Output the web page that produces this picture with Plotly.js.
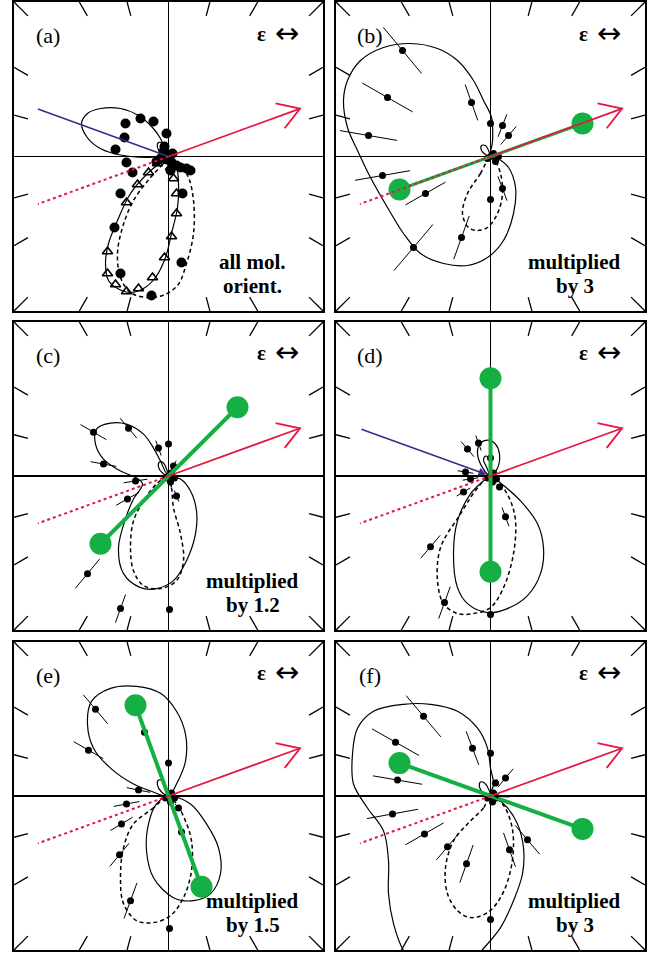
<!DOCTYPE html>
<html><head><meta charset="utf-8">
<script src="https://cdn.plot.ly/plotly-3.0.1.min.js"></script>
<style>html,body{margin:0;padding:0;background:#fff}#plot{width:651px;height:954px}</style>
</head><body><div id="plot"></div>
<script>
// ---------- data (panel coordinates, centre = 0, half width = 154.5) ----------
const panelLetters = ['(a)','(b)','(c)','(d)','(e)','(f)'];
const noteLine1 = ['all mol.','multiplied','multiplied','','multiplied','multiplied'];
const noteLine2 = ['orient.','by 3','by 1.2','','by 1.5','by 3'];

// (a)
const solidA1 = [[0,0],[-3,6],[-8,18],[-16,29],[-30,41],[-48,48],[-68,48],[-81,43],[-87,33],[-82,20],[-70,9],[-55,3],[-38,0],[-21,-1],[-10,0],[0,0]];
const solidA2 = [[0,0],[-8,-6],[-21,-17],[-38,-37],[-51,-64],[-60,-87],[-63,-107],[-60,-124],[-51,-132],[-38,-136],[-25,-132],[-13,-121],[-3,-101],[3,-77],[9,-51],[10,-27],[8,-11],[0,0]];
const dashA = [[0,0],[-6,-8],[-18,-21],[-35,-44],[-46,-71],[-51,-97],[-48,-121],[-38,-136],[-21,-141],[-6,-139],[9,-129],[18,-107],[25,-77],[25,-44],[20,-21],[12,-9],[0,0]];
const loopA = [[0,0],[-2,7],[-6,13],[-10,14],[-11,9],[-7,3],[0,0]];
const dotsA = [[-28,38,4],[-15,35,4],[-43,33,4],[-2,23,4],[-44,19,4],[-53,7,4],[-42,-6,4],[-36,-16,4],[-48,-37,4],[-54,-71,4],[-48,-117,4],[-17,-139,4],[13,-106,4],[14,-37,4],
  [-5,5,0],[-2,-3,0],[3,-6,0],[8,-9,0],[12,-11,0],[18,-12,0],[-8,-2,0],[4,3,0],[-12,-5,0],[2,-14,0],[0,0,0],[-4,10,0],[22,-14,0]];
const triA = [[-20,-16],[-31,-28],[-42,-46],[5,-22],[8,-37],[8,-57],[3,-80],[-4,-101],[-16,-121],[-30,-132],[-42,-135],[-53,-128],[-61,-117],[-61,-95],[-11,-7],[2,-11]];

// (b)
const solidB1 = [[0,0],[2,15],[1,39],[-7,56],[-17,76],[-33,96],[-53,108],[-80,113],[-107,109],[-130,96],[-143,76],[-147,56],[-143,29],[-133,6],[-120,-21],[-103,-51],[-87,-77],[-70,-97],[-47,-107],[-23,-109],[-3,-101],[13,-84],[23,-57],[25,-31],[18,-11],[7,-2],[0,0]];
const dashB = [[0,0],[-10,-17],[-23,-37],[-28,-57],[-22,-71],[-13,-74],[-3,-71],[7,-57],[12,-37],[10,-17],[5,-5],[0,0]];
const loopB = [[0,0],[-2,6],[-5,11],[-9,11],[-9,6],[-5,2],[0,0]];
const dotsB = [[-88,106,30],[-103,59,29],[-122,21,29],[-108,-19,28],[-65,-37,23],[-77,-91,30],[-29,-81,23],[-19,54,19],[0,33,10],[12,31,12],[18,21,12],[0,-43,0],[12,-32,13],
  [3,3,0],[8,0,0],[-3,-2,0],[5,-5,0],[0,0,0]];
const greenB = [[92,33],[-91,-33]];

// (c)
const solidC1 = [[0,0],[-8,15],[-15,28],[-25,42],[-42,52],[-58,53],[-72,47],[-73,32],[-65,17],[-48,5],[-32,-2],[-26,-8],[-35,-23],[-42,-40],[-50,-72],[-45,-98],[-28,-112],[-12,-113],[5,-105],[18,-85],[27,-58],[28,-35],[22,-15],[12,-3],[0,0]];
const dashC = [[0,0],[3,-12],[5,-32],[12,-58],[15,-85],[8,-105],[-8,-113],[-25,-110],[-35,-95],[-38,-72],[-35,-45],[-25,-25],[-12,-8],[0,0]];
const loopC = [[0,0],[-2,7],[-5,13],[-9,14],[-10,9],[-6,3],[0,0]];
const dotsC = [[-75,44,15],[-40,48,13],[-65,12,13],[-10,28,8],[0,32,0],[-33,-5,12],[-41,-23,13],[-81,-98,19],[-48,-133,15],[1,-134,0],[5,10,6],[8,-20,6],
  [3,3,0],[6,-2,0],[-3,-2,0],[2,-6,0],[0,0,0]];
const greenC = [[69,69],[-68,-68]];

// (d)
const solidD1 = [[0,0],[-10,12],[-13,25],[-10,33],[-2,36],[5,32],[9,22],[7,8],[0,0]];
const solidD2 = [[0,0],[-7,-5],[-20,-18],[-33,-45],[-37,-78],[-33,-112],[-23,-128],[-3,-137],[17,-133],[37,-120],[50,-98],[53,-72],[47,-48],[30,-25],[10,-7],[0,0]];
const dashD = [[0,0],[-13,-12],[-30,-38],[-50,-72],[-53,-105],[-47,-128],[-33,-138],[-17,-138],[0,-132],[13,-112],[23,-78],[25,-45],[20,-25],[10,-8],[0,0]];
const loopD = [[0,0],[-4,9],[-7,16],[-5,20],[-1,17],[0,0]];
const dotsD = [[-12,33,8],[-23,27,10],[-25,4,8],[-20,-3,8],[-27,-16,8],[0,18,0],[15,-41,10],[-60,-71,15],[-46,-127,17],[0,-139,0],[9,-11,4],
  [3,3,0],[6,-3,0],[-3,-2,0],[2,-6,0],[0,0,0]];
const greenD = [[0,98],[0,-96]];

// (e)
const solidE1 = [[0,0],[8,12],[17,35],[17,62],[8,85],[-8,103],[-32,110],[-58,108],[-77,95],[-81,72],[-75,48],[-58,28],[-35,12],[-18,5],[0,0]];
const solidE2 = [[0,0],[-12,-8],[-20,-28],[-22,-55],[-15,-82],[5,-102],[25,-105],[42,-98],[52,-78],[50,-52],[38,-28],[22,-8],[0,0]];
const dashE = [[0,0],[-15,-12],[-35,-28],[-45,-52],[-48,-82],[-45,-108],[-32,-125],[-15,-127],[2,-120],[15,-102],[23,-75],[23,-45],[17,-25],[8,-8],[0,0]];
const loopE = [[0,0],[-2,8],[-6,15],[-10,16],[-11,11],[-7,4],[0,0]];
const dotsE = [[-73,87,19],[-80,46,17],[-24,64,5],[0,33,0],[-30,6,12],[-42,-8,13],[-47,-28,13],[-49,-59,15],[-38,-105,19],[10,-12,5],[13,-36,5],[1,-133,0],
  [3,3,0],[6,-2,0],[-3,-2,0],[2,-6,0],[0,0,0]];
const greenE = [[-33,91],[33,-91]];

// (f)
const solidF1 = [[0,0],[3,12],[0,28],[-3,48],[-13,68],[-33,85],[-60,92],[-87,92],[-117,85],[-133,68],[-138,42],[-137,12],[-123,-12],[-107,-35],[-102,-65],[-102,-98],[-97,-128],[-87,-155],[-65,-180],[-30,-178],[-7,-153],[10,-132],[23,-105],[32,-78],[33,-52],[27,-28],[17,-12],[7,-3],[0,0]];
const dashF = [[0,0],[-7,-12],[-23,-28],[-37,-45],[-45,-72],[-43,-98],[-33,-115],[-20,-122],[-3,-117],[10,-102],[20,-75],[23,-45],[20,-25],[12,-8],[0,0]];
const loopF = [[0,0],[-2,7],[-6,13],[-10,14],[-11,9],[-7,3],[0,0]];
const dotsF = [[-67,80,27],[-95,54,27],[-93,16,25],[-98,-18,26],[-66,-38,22],[-43,-51,17],[-24,-68,20],[-18,48,18],[0,43,0],[15,18,12],[5,13,4],[19,-54,18],[37,-44,19],[0,-124,0],
  [3,3,0],[6,-2,0],[-3,-2,0],[2,-6,0],[0,0,0]];
const greenF = [[-91,33],[92,-33]];

// ---------- styling / geometry ----------
const H = 154.5;
const RED = '#e5173f', BLUE = '#3b2a8a', GREEN = '#14b044';
const xDom = [[14/651, 323/651],[336/651, 645/651]];
const yDom = [[1-311/954, 1-2/954],[1-630/954, 1-322/954],[1-950/954, 1-642/954]];
const panels = [
  {solid:[solidA1,solidA2,loopA], dash:dashA, dots:dotsA, tri:triA, green:null, blue:true, big:true},
  {solid:[solidB1,loopB], dash:dashB, dots:dotsB, green:greenB, gw:3},
  {solid:[solidC1,loopC], dash:dashC, dots:dotsC, green:greenC, gw:4},
  {solid:[solidD1,solidD2,loopD], dash:dashD, dots:dotsD, green:greenD, gw:4, blueArrow:true},
  {solid:[solidE1,solidE2,loopE], dash:dashE, dots:dotsE, green:greenE, gw:4},
  {solid:[solidF1,loopF], dash:dashF, dots:dotsF, green:greenF, gw:4, blackArrow:true}
];

const traces = [];
const layout = {width:651, height:954, margin:{l:0,r:0,t:0,b:0}, showlegend:false,
  paper_bgcolor:'#fff', plot_bgcolor:'#fff', annotations:[]};
const serif = 'Liberation Serif, Times New Roman, serif';

function join(list){ // list of point arrays -> x,y with null separators
  const x=[],y=[];
  list.forEach((p,i)=>{ if(i) {x.push(null);y.push(null);} p.forEach(q=>{x.push(q[0]);y.push(q[1]);}); });
  return {x,y};
}

panels.forEach((P,k)=>{
  const n = k+1, sx = n===1?'':n;
  const xa='x'+sx, ya='y'+sx;
  const col = k%2, row = Math.floor(k/2);
  const ax = {range:[-H,H], showgrid:false, zeroline:true, zerolinecolor:'#000', zerolinewidth:1.6,
    showline:true, mirror:true, linecolor:'#000', linewidth:1.8, showticklabels:false, ticks:'', fixedrange:true};
  layout['xaxis'+sx] = Object.assign({}, ax, {domain:xDom[col], anchor:ya});
  layout['yaxis'+sx] = Object.assign({}, ax, {domain:yDom[row], anchor:xa});

  // radial ticks on frame
  const tk=[];
  for(let a=15;a<360;a+=15){ if(a%90===0) continue;
    const t=a*Math.PI/180, c=Math.cos(t), s=Math.sin(t);
    const rb = H/Math.max(Math.abs(c),Math.abs(s)), ri = rb*0.91;
    tk.push([[rb*c,rb*s],[ri*c,ri*s]]);
  }
  const T=join(tk);
  traces.push({x:T.x,y:T.y,xaxis:xa,yaxis:ya,mode:'lines',line:{color:'#000',width:1.3},hoverinfo:'skip'});

  // theory curves
  P.solid.forEach(c=>{ traces.push({x:c.map(p=>p[0]),y:c.map(p=>p[1]),xaxis:xa,yaxis:ya,mode:'lines',
    line:{color:'#000',width:1.2,shape:'spline',smoothing:1},hoverinfo:'skip'}); });
  traces.push({x:P.dash.map(p=>p[0]),y:P.dash.map(p=>p[1]),xaxis:xa,yaxis:ya,mode:'lines',
    line:{color:'#000',width:1.5,dash:'4px,3px',shape:'spline',smoothing:1},hoverinfo:'skip'});

  // radial error bars
  const eb=[];
  P.dots.forEach(d=>{ const r=Math.hypot(d[0],d[1]); if(!d[2]||!r) return;
    const ux=d[0]/r, uy=d[1]/r; eb.push([[d[0]-d[2]*ux,d[1]-d[2]*uy],[d[0]+d[2]*ux,d[1]+d[2]*uy]]); });
  const E=join(eb);
  traces.push({x:E.x,y:E.y,xaxis:xa,yaxis:ya,mode:'lines',line:{color:'#000',width:1},hoverinfo:'skip'});

  // measured points
  traces.push({x:P.dots.map(d=>d[0]),y:P.dots.map(d=>d[1]),xaxis:xa,yaxis:ya,mode:'markers',
    marker:{color:'#000',size:P.big?10:7}});
  if(P.tri) traces.push({x:P.tri.map(d=>d[0]),y:P.tri.map(d=>d[1]),xaxis:xa,yaxis:ya,mode:'markers',
    marker:{symbol:'triangle-up-open',color:'#000',size:9,line:{width:1.6,color:'#000'}}});

  // green axis
  if(P.green) traces.push({x:P.green.map(p=>p[0]),y:P.green.map(p=>p[1]),xaxis:xa,yaxis:ya,mode:'lines+markers',
    line:{color:GREEN,width:P.gw},marker:{color:GREEN,size:22}});

  // light propagation arrow (red)
  const ang=20*Math.PI/180, L=140;
  const tip=[L*Math.cos(ang),L*Math.sin(ang)];
  const armL=25, da=32*Math.PI/180;
  const back=ang+Math.PI;
  traces.push({x:[0,tip[0],null,tip[0]+armL*Math.cos(back-da),tip[0],tip[0]+armL*Math.cos(back+da)],
    y:[0,tip[1],null,tip[1]+armL*Math.sin(back-da),tip[1],tip[1]+armL*Math.sin(back+da)],
    xaxis:xa,yaxis:ya,mode:'lines',line:{color:RED,width:1.8},hoverinfo:'skip'});
  const Ld=139;
  traces.push({x:[0,Ld*Math.cos(back)],y:[0,Ld*Math.sin(back)],xaxis:xa,yaxis:ya,mode:'lines',
    line:{color:RED,width:2,dash:'dot'},hoverinfo:'skip'});

  const bang=160*Math.PI/180;
  if(P.blue) traces.push({x:[Ld*Math.cos(bang),0],y:[Ld*Math.sin(bang),0],xaxis:xa,yaxis:ya,mode:'lines',
    line:{color:BLUE,width:1.6},hoverinfo:'skip'});
  if(P.blueArrow) layout.annotations.push({xref:xa,yref:ya,axref:xa,ayref:ya,x:-4,y:1.5,ax:Ld*Math.cos(bang),ay:Ld*Math.sin(bang),
    text:'',showarrow:true,arrowhead:2,arrowsize:1,arrowwidth:1.6,arrowcolor:BLUE,standoff:0});
  if(P.blackArrow) layout.annotations.push({xref:xa,yref:ya,axref:xa,ayref:ya,x:3,y:0,ax:20,ay:-1,
    text:'',showarrow:true,arrowhead:2,arrowsize:0.8,arrowwidth:1.2,arrowcolor:'#000',standoff:0});

  // texts
  layout.annotations.push({xref:xa,yref:ya,x:-121,y:121,text:panelLetters[k],showarrow:false,
    font:{family:serif,size:22,color:'#000'}});
  layout.annotations.push({xref:xa,yref:ya,x:93,y:123,text:'<b>ε</b>',showarrow:false,
    font:{family:serif,size:21,color:'#000'}});
  layout.annotations.push({xref:xa,yref:ya,x:118,y:124,text:'↔',showarrow:false,
    font:{family:'DejaVu Sans',size:29,color:'#000'}});
  if(noteLine1[k]){
    layout.annotations.push({xref:xa,yref:ya,x:84,y:-105,text:'<b>'+noteLine1[k]+'</b>',showarrow:false,
      font:{family:serif,size:21,color:'#000'}});
    layout.annotations.push({xref:xa,yref:ya,x:84,y:-129,text:'<b>'+noteLine2[k]+'</b>',showarrow:false,
      font:{family:serif,size:21,color:'#000'}});
  }
});

Plotly.newPlot('plot', traces, layout, {staticPlot:true, displayModeBar:false});
</script></body></html>
